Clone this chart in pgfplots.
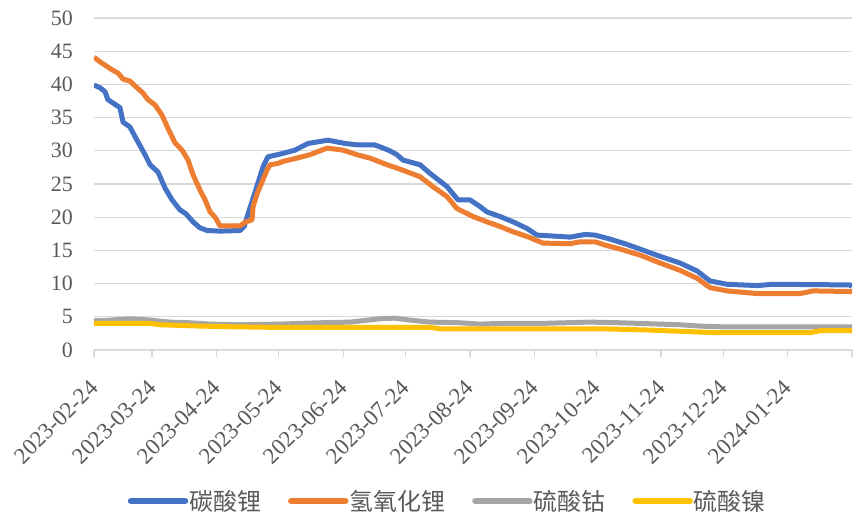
\documentclass[border=0pt]{standalone}
\usepackage{fontspec}
\setmainfont{Liberation Serif}
\newfontfamily\cjk{Noto Sans CJK SC}
\usepackage{pgfplots}
\pgfplotsset{compat=1.18}
\definecolor{cBlue}{HTML}{4472C4}
\definecolor{cOrange}{HTML}{ED7D31}
\definecolor{cGrey}{HTML}{A5A5A5}
\definecolor{cYellow}{HTML}{FFC000}
\definecolor{gridgray}{HTML}{D9D9D9}
\definecolor{labelgray}{HTML}{595959}
\begin{document}
\begin{tikzpicture}
\path[use as bounding box] (0bp,0bp) rectangle (854bp,517bp);
\begin{axis}[
  at={(94bp,167bp)}, anchor=south west,
  scale only axis, width=758bp, height=332bp,
  xmin=0, xmax=365, ymin=0, ymax=50,
  axis x line*=bottom, axis y line*=left,
  x axis line style={draw=gridgray, line width=1.3bp, -},
  y axis line style={draw=none},
  ytick={0,5,...,50}, ymajorgrids,
  grid style={gridgray, line width=1.3bp},
  xtick={0,28,59,89,120,150,181,212,242,273,303,334,365},
  xticklabels={2023-02-24,2023-03-24,2023-04-24,2023-05-24,2023-06-24,2023-07-24,2023-08-24,2023-09-24,2023-10-24,2023-11-24,2023-12-24,2024-01-24,{}},
  xtick align=outside, major tick length=7bp,
  xtick style={draw=gridgray, line width=1.3bp},
  ytick style={draw=none},
  tick label style={font=\fontsize{22}{24}\selectfont, text=labelgray},
  /pgf/number format/assume math mode=true,
  yticklabel style={anchor=east, inner sep=0pt, xshift=-21bp},
  xticklabel style={font=\fontsize{23}{25}\selectfont, inner sep=0pt, yshift=-27bp, rotate=45, anchor=east},
  every axis plot/.append style={line width=5bp, line join=round, mark=none},
  legend style={at={(0.466,-0.455)}, anchor=center, draw=none, fill=none,
    legend columns=4, font=\cjk\fontsize{24}{26}\selectfont, text=labelgray,
    /tikz/every even column/.append style={column sep=26bp},
    nodes={inner sep=1bp}},
  legend image code/.code={\draw[#1, line width=6.5bp, line cap=round] (0bp,0bp) -- (54bp,0bp);},
]
\addplot[cBlue] coordinates {
(0,39.9)(2.9,39.5)(5.3,38.9)(6.7,37.7)(10.1,37.0)(12.5,36.5)(14.0,34.3)(17.3,33.6)
(20.7,31.6)(24.6,29.4)(27.0,27.9)(30.8,26.8)(34.2,24.4)(37.6,22.6)(41.4,21.1)(44.3,20.5)
(47.7,19.3)(51.0,18.4)(54.4,18.0)(60.7,17.9)(70.3,18.0)(72.3,18.6)(74.7,21.0)(77.6,23.8)
(81.4,27.6)(83.8,29.1)(89.6,29.5)(96.8,30.1)(103.0,31.1)(112.7,31.6)(120.9,31.1)(126.7,30.9)
(135.0,30.9)(137.7,30.6)(142.5,30.0)(145.9,29.4)(148.8,28.6)(157.0,27.9)(161.8,26.6)
(170.0,24.6)(175.3,22.6)(181.1,22.6)(185.9,21.6)(189.2,20.8)(195.5,20.1)(201.8,19.3)
(208.5,18.3)(213.3,17.3)(224.4,17.1)(229.2,17.0)(236.4,17.4)(241.3,17.3)(248.5,16.7)
(255.7,16.0)(262.9,15.2)(272.6,14.1)(282.2,13.1)(290.4,11.9)(296.6,10.4)(304.8,9.9)
(319.3,9.7)(327.0,9.9)(364.0,9.8)(365,9.5)
};
\addlegendentry{碳酸锂}
\addplot[cOrange] coordinates {
(0,44.1)(2.9,43.4)(5.3,42.9)(8.7,42.2)(11.6,41.7)(14.0,40.8)(17.3,40.5)(20.7,39.5)
(23.6,38.7)(26.0,37.7)(29.4,36.9)(32.7,35.4)(35.6,33.4)(39.0,31.2)(42.4,30.1)(45.3,28.6)
(47.7,26.4)(51.0,24.1)(53.5,22.6)(55.9,20.8)(58.3,20.0)(60.7,18.7)(70.3,18.7)(73.2,19.3)
(76.1,19.6)(76.6,21.6)(78.6,23.6)(83.3,27.1)(84.8,27.9)(88.6,28.1)(91.0,28.4)(97.7,28.9)
(103.9,29.4)(112.2,30.4)(119.9,30.1)(126.7,29.4)(132.9,28.9)(141.1,27.9)(145.9,27.4)
(157.0,26.1)(163.2,24.6)(170.0,23.1)(174.8,21.3)(182.5,20.1)(189.2,19.3)(195.5,18.6)
(201.8,17.8)(208.5,17.1)(216.2,16.1)(229.2,16.0)(234.0,16.3)(241.3,16.3)(246.1,15.8)
(253.3,15.2)(262.9,14.3)(272.6,13.1)(282.2,12.0)(290.4,10.8)(296.6,9.4)(304.8,8.9)
(319.3,8.5)(340.0,8.5)(346.3,8.9)(365,8.8)
};
\addlegendentry{氢氧化锂}
\addplot[cGrey] coordinates {
(0,4.4)(7.7,4.5)(17.3,4.7)(27.0,4.5)(36.6,4.2)(46.2,4.1)(55.9,3.9)(70.3,3.8)(89.6,3.9)
(108.8,4.1)(123.3,4.2)(137.7,4.7)(144.9,4.8)(152.2,4.5)(161.8,4.2)(176.2,4.1)(185.9,3.9)
(195.5,4.0)(214.8,4.0)(238.9,4.2)(253.3,4.1)(272.6,3.9)(282.2,3.8)(291.8,3.6)(301.5,3.5)
(320.7,3.5)(365,3.5)
};
\addlegendentry{硫酸钴}
\addplot[cYellow] coordinates {
(0,4.0)(27.0,4.0)(31.8,3.8)(51.0,3.6)(65.5,3.5)(89.6,3.4)(161.8,3.4)(166.6,3.2)
(243.7,3.2)(267.7,3.0)(291.8,2.7)(301.5,2.6)(344.8,2.6)(349.6,2.9)(365,2.9)
};
\addlegendentry{硫酸镍}
\end{axis}
\end{tikzpicture}
\end{document}
